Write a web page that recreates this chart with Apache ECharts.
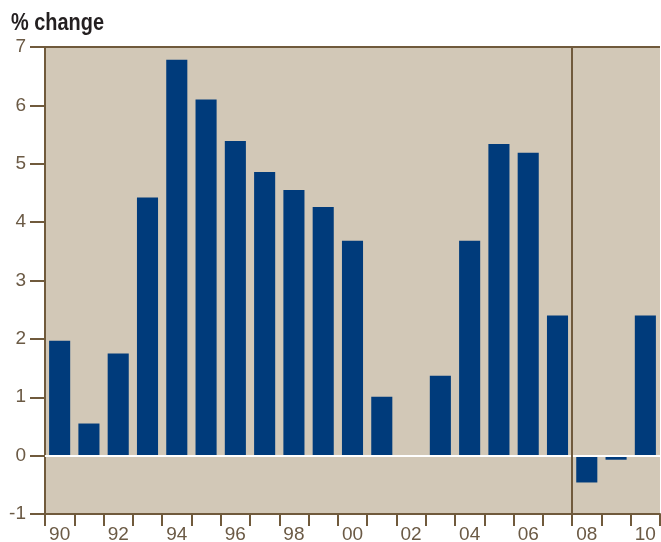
<!DOCTYPE html>
<html><head><meta charset="utf-8">
<script src="https://cdn.jsdelivr.net/npm/echarts@6/dist/echarts.min.js"></script>
<style>html,body{margin:0;padding:0;background:#fff}#c{width:661px;height:542px}</style>
</head><body><div id="c"></div>
<script>
const categories = ['90','91','92','93','94','95','96','97','98','99','00','01','02','03','04','05','06','07','08','09','10'];
const values = [1.97,0.55,1.75,4.42,6.78,6.10,5.39,4.86,4.55,4.26,3.68,1.01,0,1.37,3.68,5.34,5.19,2.40,-0.46,-0.07,2.40];
const yTicks = [-1,0,1,2,3,4,5,6,7];
const dividerPosition = 17.5;
const titleText = '% change';

const axisColor = '#705a3c';
const labelColor = '#6b5a45';
const font = '"Liberation Sans", Arial, sans-serif';

const chart = echarts.init(document.getElementById('c'));
chart.setOption({
  animation: false,
  backgroundColor: '#ffffff',
  graphic: [{
    type: 'text', left: 11, top: 11, scaleX: 0.83,
    style: {text: titleText, font: 'bold 24px "Liberation Sans", Arial, sans-serif', fill: '#231f20'}
  }],
  grid: {
    left: 45, top: 47, right: 1, bottom: 28, show: true, containLabel: false,
    outerBoundsMode: 'none',
    backgroundColor: '#d2c8b7', borderColor: axisColor, borderWidth: 0
  },
  xAxis: [{
    type: 'category', data: categories, boundaryGap: true,
    axisLine: {show: true, onZero: false, lineStyle: {color: axisColor, width: 2}},
    axisTick: {show: true, interval: 0, length: 12, lineStyle: {color: axisColor, width: 2}},
    axisLabel: {interval: 1, color: labelColor, fontFamily: font, fontSize: 19, margin: 11},
    splitLine: {show: false}
  }, {
    type: 'value', min: -0.5, max: 20.5, show: false, position: 'top'
  }],
  yAxis: [{
    type: 'value', min: yTicks[0], max: yTicks[yTicks.length-1], interval: 1,
    axisLine: {show: true, onZero: false, lineStyle: {color: axisColor, width: 2}},
    axisTick: {show: true, length: 15, lineStyle: {color: axisColor, width: 2}},
    axisLabel: {color: labelColor, fontFamily: font, fontSize: 19, margin: 19},
    splitLine: {show: false}
  }],
  series: [{
    type: 'bar', data: values, barCategoryGap: '28%',
    itemStyle: {color: '#003b7b'},
    markLine: {
      silent: true, symbol: 'none', label: {show: false},
      lineStyle: {color: '#ffffff', width: 2, type: 'solid'},
      data: [{yAxis: 0}, {yAxis: 7, lineStyle: {color: axisColor, width: 2}}]
    }
  }, {
    type: 'line', xAxisIndex: 1, data: [],
    markLine: {
      silent: true, symbol: 'none', label: {show: false},
      lineStyle: {color: axisColor, width: 2, type: 'solid'},
      data: [{xAxis: dividerPosition}]
    }
  }]
});
</script></body></html>
